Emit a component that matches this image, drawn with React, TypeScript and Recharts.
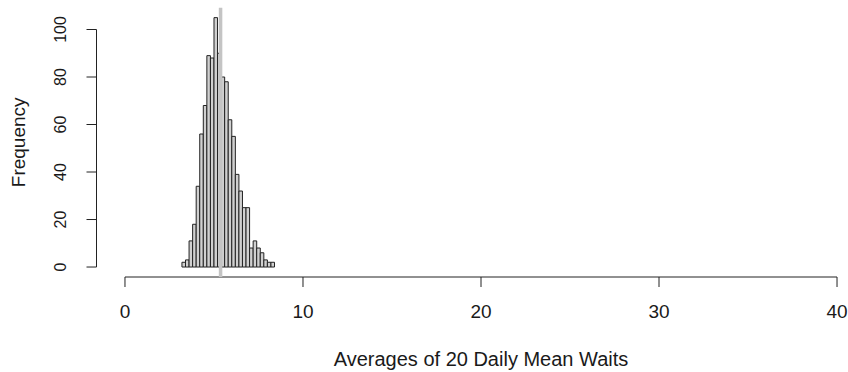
import { BarChart, Bar, XAxis, YAxis, ReferenceLine, Label } from 'recharts';

// histogram of 1000 simulated averages, bins of width 0.2 (3.2 .. 8.4)
const binMids = [
  3.3, 3.5, 3.7, 3.9, 4.1, 4.3, 4.5, 4.7, 4.9, 5.1, 5.3, 5.5, 5.7,
  5.9, 6.1, 6.3, 6.5, 6.7, 6.9, 7.1, 7.3, 7.5, 7.7, 7.9, 8.1, 8.3,
];
const counts = [
  2, 3, 11, 18, 34, 56, 68, 89, 88, 105, 90, 80, 78,
  62, 55, 39, 32, 25, 25, 8, 11, 8, 6, 3, 2, 2,
];
const xTicks = [0, 10, 20, 30, 40];
const yTicks = [0, 20, 40, 60, 80, 100];
const meanWait = 5.37;

// R-style padded ranges (4% beyond the axis range); the right edge is cropped off
const X_DOMAIN: [number, number] = [-1.6, 41.6];
const Y_DOMAIN: [number, number] = [-4.2, 109.2];

const data = binMids.map((mid, i) => ({ mid, count: counts[i] }));

const FONT = '"Liberation Sans", Arial, sans-serif';
const INK = '#1a1a1a';

function YTick({ x, y, payload }: { x: number; y: number; payload: { value: number } }) {
  return (
    <text x={x} y={y} transform={`rotate(-90 ${x} ${y})`} textAnchor="middle" fontSize={16} fill={INK} fontFamily={FONT}>
      {payload.value}
    </text>
  );
}

export default function App() {
  return (
    <div style={{ width: 848, height: 372, background: '#fff', overflow: 'hidden' }}>
      <style>{'body { margin: 0; background: #fff; }'}</style>
      <BarChart
        width={848}
        height={372}
        data={data}
        margin={{ top: 7.65, right: -17.5, bottom: 0, left: 0 }}
      >
        <XAxis
          type="number"
          dataKey="mid"
          domain={X_DOMAIN}
          ticks={xTicks}
          allowDataOverflow
          height={95}
          axisLine={false}
          tickLine={{ stroke: '#222' }}
          tickSize={10}
          tickMargin={17.5}
          tick={{ fontSize: 19, fill: INK, fontFamily: FONT }}
        >
          <Label
            content={({ viewBox }: any) => (
              <text x={viewBox.x + viewBox.width / 2} y={365.5} textAnchor="middle" fontSize={20} fill={INK} fontFamily={FONT}>
                Averages of 20 Daily Mean Waits
              </text>
            )}
          />
        </XAxis>
        <YAxis
          type="number"
          domain={Y_DOMAIN}
          ticks={yTicks}
          allowDataOverflow
          width={96.5}
          axisLine={false}
          tickLine={{ stroke: '#222' }}
          tickSize={10}
          tickMargin={20.5}
          tick={YTick}
        >
          <Label
            content={({ viewBox }: any) => {
              const cx = viewBox.x + 25;
              const cy = viewBox.y + viewBox.height / 2;
              return (
                <text x={cx} y={cy} transform={`rotate(-90 ${cx} ${cy})`} textAnchor="middle" fontSize={19} fill={INK} fontFamily={FONT}>
                  Frequency
                </text>
              );
            }}
          />
        </YAxis>
        <Bar dataKey="count" barSize={3.56} fill="#d0d0d0" stroke="#222" strokeWidth={1} isAnimationActive={false} />
        <ReferenceLine segment={[{ x: 0, y: Y_DOMAIN[0] }, { x: 40, y: Y_DOMAIN[0] }]} stroke="#222" strokeWidth={1} />
        <ReferenceLine segment={[{ x: X_DOMAIN[0], y: 0 }, { x: X_DOMAIN[0], y: 100 }]} stroke="#222" strokeWidth={1} />
        <ReferenceLine x={meanWait} stroke="#c4c4c4" strokeWidth={3.5} />
      </BarChart>
    </div>
  );
}
